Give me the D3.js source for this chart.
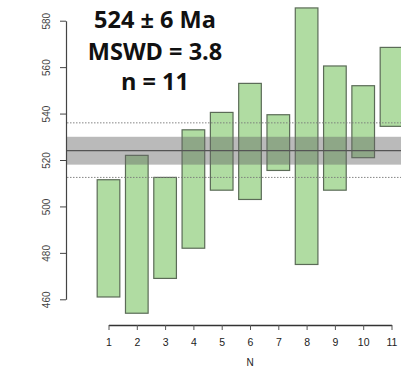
<!DOCTYPE html>
<html><head><meta charset="utf-8">
<script src="https://cdn.jsdelivr.net/npm/d3@7"></script>
<style>
html,body{margin:0;padding:0;background:#fff;}
svg{display:block;}
</style></head>
<body>
<svg id="chart" width="401" height="371"></svg>
<script>
// ---- data ----
const sampleN   = [1, 2, 3, 4, 5, 6, 7, 8, 9, 10, 11];
const lowerAge  = [461, 454, 469, 482, 507, 503, 515.5, 475, 507, 521, 534.5];
const upperAge  = [511.5, 522, 512.5, 533, 540.5, 553, 539.5, 585.5, 560.5, 552, 568.5];
const yTicks    = [460, 480, 500, 520, 540, 560, 580];
const xTicks    = [1, 2, 3, 4, 5, 6, 7, 8, 9, 10, 11];
const meanAge   = 524;
const bandLow   = 518;
const bandHigh  = 530;
const dotLow    = 512.5;
const dotHigh   = 536;
const titleLines = ["524 \u00b1 6 Ma", "MSWD = 3.8", "n = 11"];

const svg = d3.select("#chart");
const x = d3.scaleLinear().domain([1, 11]).range([108.5, 391.5]);
const y = d3.scaleLinear().domain([460, 580]).range([299.3, 20.7]);
const plotL = 66, plotR = 401;

// bars
const halfW = 0.4;
svg.append("g").selectAll("rect").data(sampleN).join("rect")
  .attr("x", (d) => x(d - halfW))
  .attr("width", (d) => x(d + halfW) - x(d - halfW))
  .attr("y", (d, i) => y(upperAge[i]))
  .attr("height", (d, i) => y(lowerAge[i]) - y(upperAge[i]))
  .attr("fill", "#b0dca2")
  .attr("stroke", "#5b6b57")
  .attr("stroke-width", 1.2);

// band
svg.append("rect")
  .attr("x", plotL + 1).attr("width", plotR - plotL)
  .attr("y", y(bandHigh)).attr("height", y(bandLow) - y(bandHigh))
  .attr("fill", "#666").attr("fill-opacity", 0.45);

// mean line
svg.append("line")
  .attr("x1", plotL + 1).attr("x2", plotR)
  .attr("y1", y(meanAge)).attr("y2", y(meanAge))
  .attr("stroke", "#555").attr("stroke-width", 1.3);

// dotted lines
[dotLow, dotHigh].forEach(v => {
  svg.append("line")
    .attr("x1", plotL + 1).attr("x2", plotR)
    .attr("y1", y(v)).attr("y2", y(v))
    .attr("stroke", "#777").attr("stroke-width", 0.9)
    .attr("stroke-dasharray", "1.5,1.5");
});

// y axis
const yAxis = svg.append("g")
  .attr("transform", `translate(${plotL},0)`)
  .call(d3.axisLeft(y).tickValues(yTicks).tickSize(6).tickSizeOuter(0).tickFormat(d3.format("d")));
yAxis.select(".domain").attr("stroke", "#444").attr("stroke-width", 1.2);
yAxis.selectAll(".tick line").attr("stroke", "#444").attr("stroke-width", 1);
yAxis.selectAll(".tick text")
  .attr("transform", "rotate(-90)")
  .attr("x", 0).attr("y", -19.5).attr("dy", "0.35em")
  .attr("text-anchor", "middle")
  .attr("font-family", "Liberation Sans, Arial, sans-serif")
  .attr("font-size", 10)
  .attr("fill", "#444");

// x axis
const xAxis = svg.append("g")
  .attr("transform", `translate(0,325)`)
  .call(d3.axisBottom(x).tickValues(xTicks).tickSize(5).tickSizeOuter(0).tickPadding(9));
xAxis.select(".domain").attr("stroke", "#333").attr("stroke-width", 1.3);
xAxis.selectAll(".tick line").attr("stroke", "#555");
xAxis.selectAll(".tick text")
  .attr("font-family", "Liberation Sans, Arial, sans-serif")
  .attr("font-size", 10.5)
  .attr("fill", "#222");

svg.append("text")
  .attr("x", x(6)).attr("y", 366)
  .attr("text-anchor", "middle")
  .attr("font-family", "Liberation Sans, Arial, sans-serif")
  .attr("font-size", 10)
  .attr("fill", "#222")
  .text("N");

// annotation
const tY = [28, 60, 90];
svg.append("g").selectAll("text").data(titleLines).join("text")
  .attr("x", 155).attr("y", (d, i) => tY[i])
  .attr("text-anchor", "middle")
  .attr("font-family", "Open Sans, sans-serif")
  .attr("font-weight", "bold")
  .attr("font-size", 23.5)
  .attr("fill", "#111")
  .text(d => d);
</script>
</body></html>
